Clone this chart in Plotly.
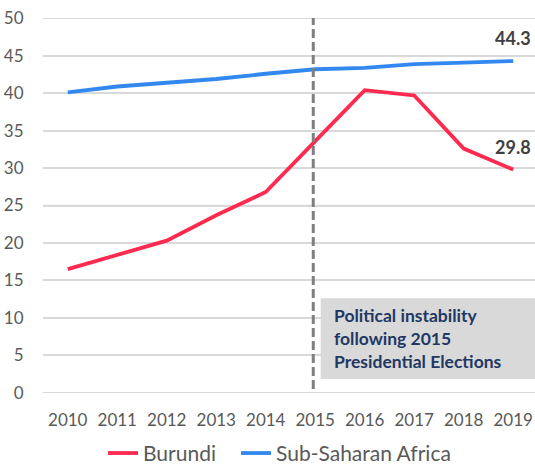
import plotly.graph_objects as go

years = [2010, 2011, 2012, 2013, 2014, 2015, 2016, 2017, 2018, 2019]
burundi = [16.5, 18.4, 20.3, 23.7, 26.8, 33.6, 40.4, 39.7, 32.6, 29.8]
ssa = [40.1, 40.9, 41.4, 41.9, 42.6, 43.2, 43.4, 43.9, 44.1, 44.3]
y_ticks = [0, 5, 10, 15, 20, 25, 30, 35, 40, 45, 50]
note_text = "Political instability<br>following 2015<br>Presidential Elections"
event_year = 2015

RED = "#ff2a50"
BLUE = "#3388f0"
GRID = "#d9d9d9"
FONT = "Lato"
PLOT_LEFT, PLOT_W = 43, 492


def paper_x(px):
    return (px - PLOT_LEFT) / PLOT_W


fig = go.Figure()
fig.add_trace(go.Scatter(x=years, y=burundi, mode="lines", name="Burundi",
                         line=dict(color=RED, width=3.8), legend="legend"))
fig.add_trace(go.Scatter(x=years, y=ssa, mode="lines", name="Sub-Saharan Africa",
                         line=dict(color=BLUE, width=3.8), legend="legend2"))

# horizontal grid at every y tick, kept beneath the series
for t in y_ticks:
    fig.add_hline(y=t, line=dict(color=GRID, width=1.5), layer="below")

# shaded note box to the right of the event line (covers the grid)
fig.add_shape(type="rect", xref="x", yref="y", x0=event_year + 0.11, x1=2019.6,
              y0=1.83, y1=12.6, fillcolor="#d9d9d9", line=dict(width=0), layer="below")
fig.add_annotation(x=event_year + 0.33, y=7.2, xref="x", yref="y", text=f"<b>{note_text}</b>",
                   showarrow=False, xanchor="left", yanchor="middle", align="left",
                   font=dict(family=FONT, size=17.5, color="#1f3864"))

# vertical dashed event marker
fig.add_shape(type="line", xref="x", yref="y", x0=event_year - 0.04, x1=event_year - 0.04,
              y0=0.5, y1=50.2, line=dict(color="#7f7f7f", width=3, dash="9px,4px"))

# end-of-series value labels
for series in (ssa, burundi):
    fig.add_annotation(x=years[-1], y=series[-1], text=f"<b>{series[-1]}</b>",
                       showarrow=False, yshift=23,
                       font=dict(family=FONT, size=18, color="#404040"))

legend_style = dict(orientation="h", yanchor="middle", y=-0.161, xanchor="left",
                    font=dict(family=FONT, size=21, color="#595959"),
                    itemwidth=30, bgcolor="rgba(0,0,0,0)")

fig.update_layout(
    width=535, height=466,
    margin=dict(l=PLOT_LEFT, r=0, t=18, b=73, autoexpand=False),
    plot_bgcolor="white", paper_bgcolor="white",
    font=dict(family=FONT, size=17, color="#595959"),
    showlegend=True,
    legend=dict(legend_style, x=paper_x(103)),
    legend2=dict(legend_style, x=paper_x(236)),
)
fig.update_xaxes(range=[2009.5, 2019.44], tickmode="array", tickvals=years,
                 ticktext=[str(y) for y in years],
                 showgrid=False, zeroline=False, showline=False,
                 ticks="outside", ticklen=12, tickcolor="rgba(0,0,0,0)",
                 tickfont=dict(family=FONT, size=17, color="#595959"))
fig.update_yaxes(range=[-0.05, 50.05], tickmode="array", tickvals=y_ticks,
                 showgrid=True, gridcolor=GRID, gridwidth=1.5,
                 zeroline=False, showline=False,
                 ticks="outside", ticklen=15, tickcolor="rgba(0,0,0,0)",
                 tickfont=dict(family=FONT, size=17, color="#595959"))

fig.write_html("out.html")
